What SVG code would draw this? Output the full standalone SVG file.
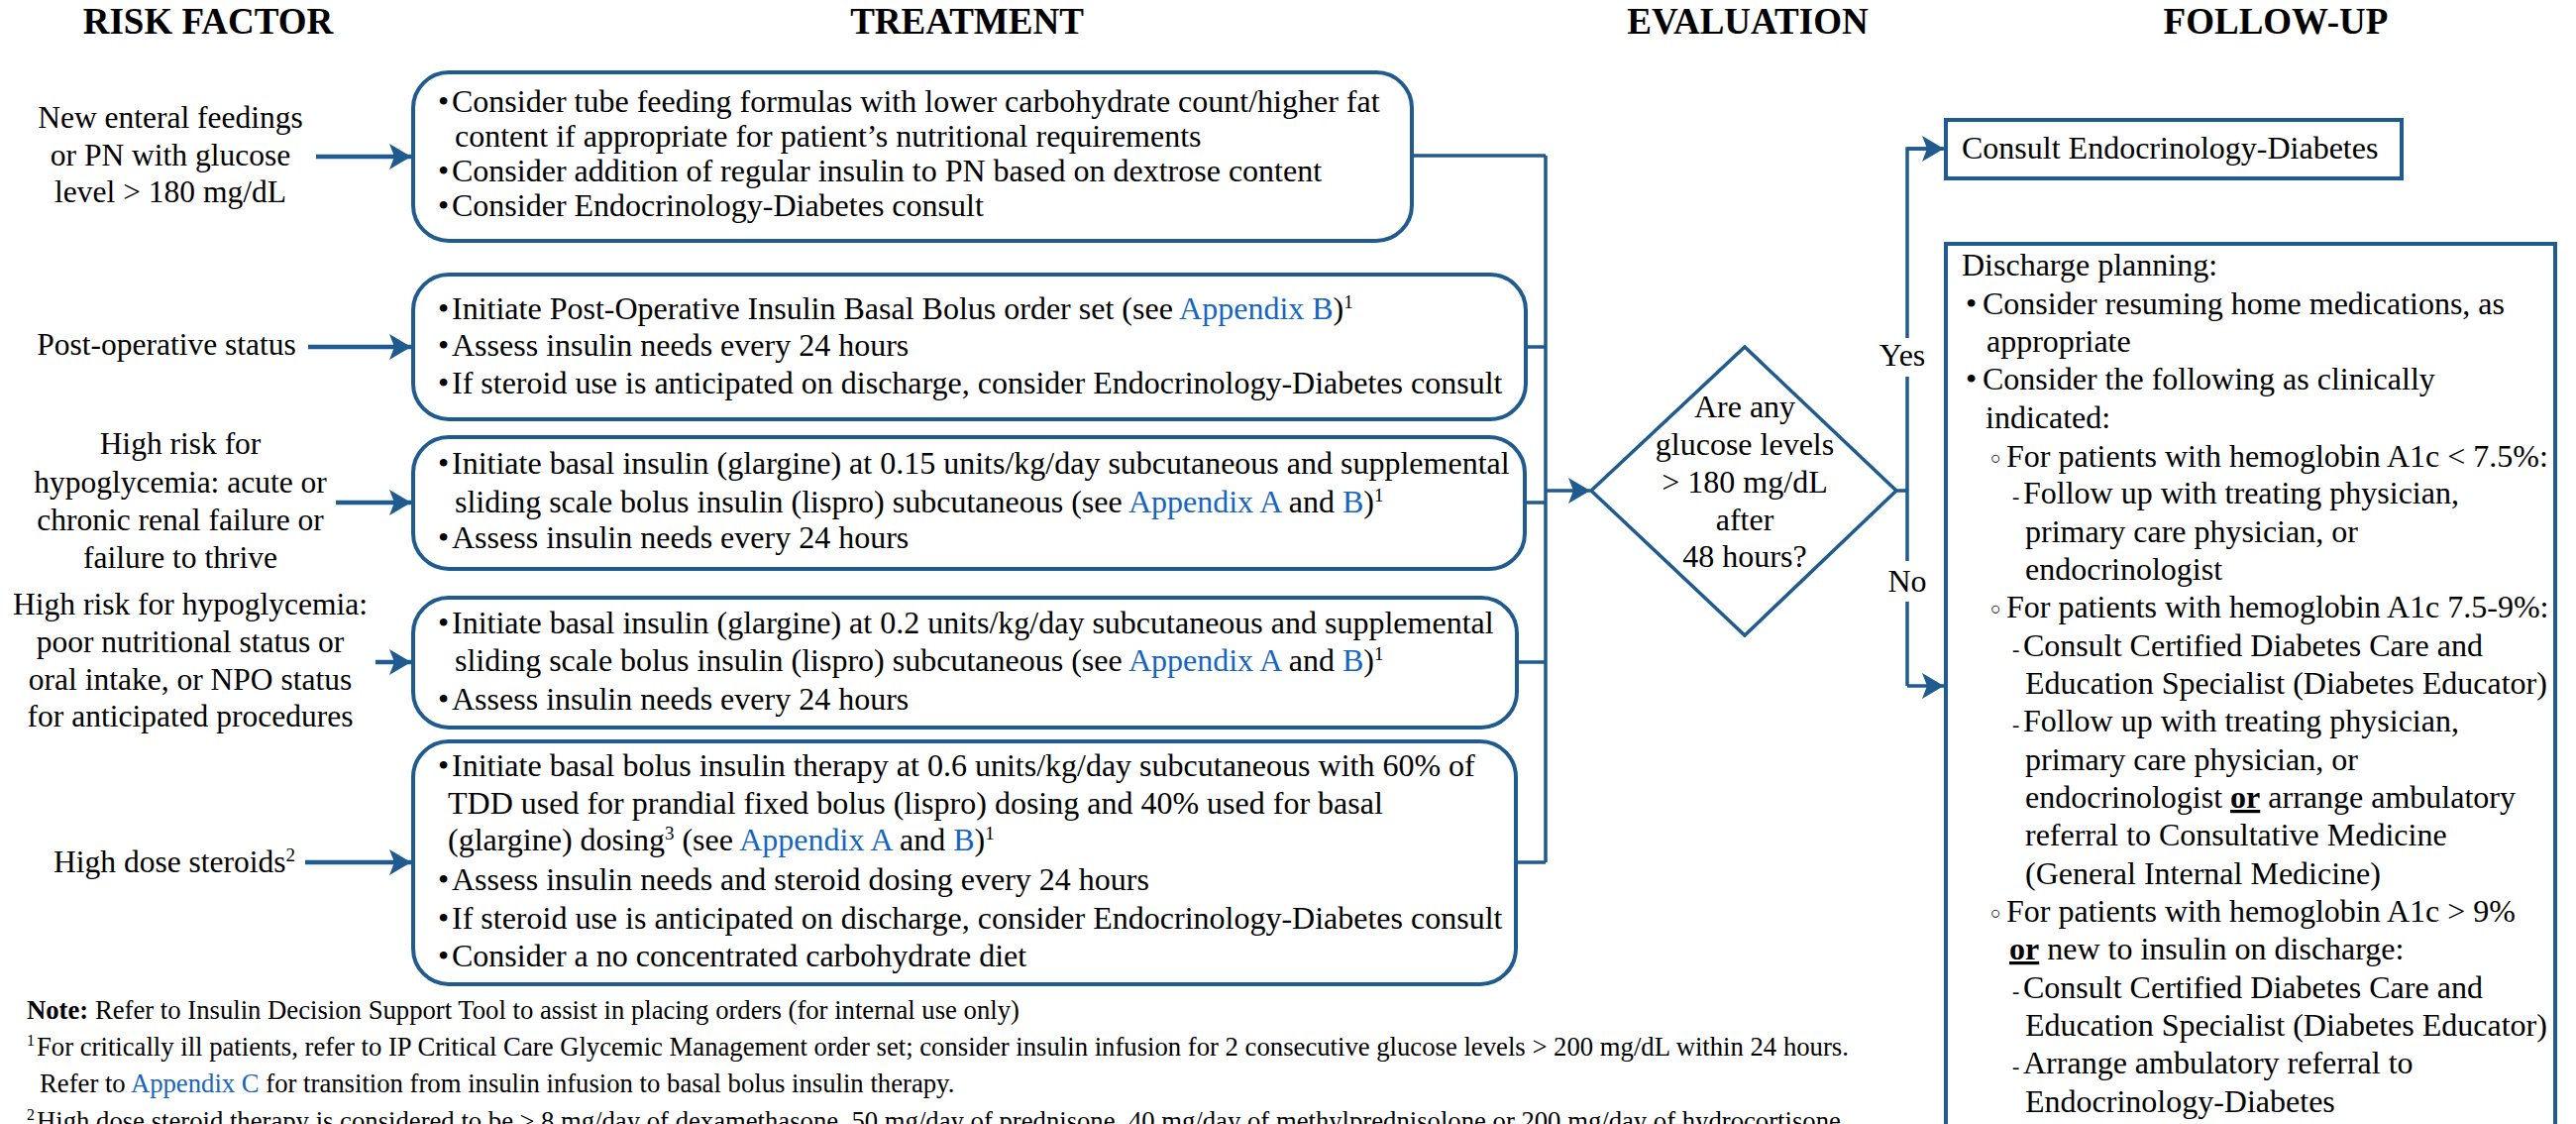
<svg xmlns="http://www.w3.org/2000/svg" width="2600" height="1134" viewBox="0 0 2600 1134">
  <style>
    text { font-family: "Liberation Serif", "Times New Roman", serif; fill: #000; }
    .hdr { font-size: 37px; font-weight: bold; text-anchor: middle; }
    .t { font-size: 32px; }
    .rf { font-size: 31.5px; text-anchor: middle; }
    .rfl { font-size: 31.5px; }
    .fn { font-size: 26.7px; }
    .lnk { fill: #1565c0; }
    .box { fill: #fff; stroke: #1f5b8e; stroke-width: 4; }
    .wire { fill: none; stroke: #1f5b8e; stroke-width: 3.5; }
    .feed { fill: none; stroke: #1f5b8e; stroke-width: 4.5; }
    .circ { font-size: 18px; }
    .dash { font-size: 22px; }
  </style>
  <defs>
    <marker id="arr" markerUnits="userSpaceOnUse" markerWidth="24" markerHeight="28" refX="22" refY="13" orient="auto">
      <path d="M0,0 L22,13 L0,26 L5,13 z" fill="#1f5b8e"/>
    </marker>
  </defs>
  <rect width="2600" height="1134" fill="#fff"/>

  <!-- column headings -->
  <g id="headings">
    <text class="hdr" x="210" y="34">RISK FACTOR</text>
    <text class="hdr" x="976" y="34">TREATMENT</text>
    <text class="hdr" x="1764" y="34">EVALUATION</text>
    <text class="hdr" x="2297" y="34">FOLLOW-UP</text>
  </g>

  <!-- connectors -->
  <g id="connectors">
    <line class="feed" x1="319" y1="158" x2="415" y2="158" marker-end="url(#arr)"/>
    <line class="feed" x1="311" y1="350" x2="415" y2="350" marker-end="url(#arr)"/>
    <line class="feed" x1="339" y1="507" x2="415" y2="507" marker-end="url(#arr)"/>
    <line class="feed" x1="379" y1="668" x2="415" y2="668" marker-end="url(#arr)"/>
    <line class="feed" x1="308" y1="870" x2="415" y2="870" marker-end="url(#arr)"/>
    <!-- collector bus from treatment boxes -->
    <path class="wire" d="M1425,157 H1560 M1540,350 H1560 M1539,507 H1560 M1531,668 H1560 M1530,870 H1560 M1560,157 V870"/>
    <line class="wire" x1="1560" y1="495" x2="1605" y2="495" marker-end="url(#arr)"/>
    <!-- decision outputs -->
    <path class="wire" d="M1914,495 H1925 M1925,341 V150 H1961"/>
    <line class="wire" x1="1925" y1="150" x2="1962" y2="150" marker-end="url(#arr)"/>
    <path class="wire" d="M1925,380 V566 M1925,607 V692"/>
    <line class="wire" x1="1925" y1="692" x2="1962" y2="692" marker-end="url(#arr)"/>
    <text class="t" x="1920" y="369" text-anchor="middle">Yes</text>
    <text class="t" x="1925" y="597" text-anchor="middle">No</text>
  </g>

  <!-- risk factors -->
  <g id="rf-enteral">
    <text class="rf" x="172" y="129">New enteral feedings</text>
    <text class="rf" x="172" y="167">or PN with glucose</text>
    <text class="rf" x="172" y="204">level &gt; 180 mg/dL</text>
  </g>
  <g id="rf-postop">
    <text class="rf" x="168" y="358">Post-operative status</text>
  </g>
  <g id="rf-renal">
    <text class="rf" x="182" y="458">High risk for</text>
    <text class="rf" x="182" y="497">hypoglycemia: acute or</text>
    <text class="rf" x="182" y="535">chronic renal failure or</text>
    <text class="rf" x="182" y="573">failure to thrive</text>
  </g>
  <g id="rf-nutrition">
    <text class="rf" x="192" y="620">High risk for hypoglycemia:</text>
    <text class="rf" x="192" y="658">poor nutritional status or</text>
    <text class="rf" x="192" y="696">oral intake, or NPO status</text>
    <text class="rf" x="192" y="733">for anticipated procedures</text>
  </g>
  <g id="rf-steroids">
    <text class="rfl" x="54" y="880">High dose steroids<tspan dy="-11" font-size="19">2</tspan></text>
  </g>

  <!-- treatment boxes -->
  <g id="tx-enteral">
    <rect class="box" x="417" y="73" width="1008" height="170" rx="36"/>
    <text class="t" x="442" y="113">•</text><text class="t" x="456" y="113">Consider tube feeding formulas with lower carbohydrate count/higher fat</text>
    <text class="t" x="459" y="148">content if appropriate for patient’s nutritional requirements</text>
    <text class="t" x="442" y="183">•</text><text class="t" x="456" y="183">Consider addition of regular insulin to PN based on dextrose content</text>
    <text class="t" x="442" y="218">•</text><text class="t" x="456" y="218">Consider Endocrinology-Diabetes consult</text>
  </g>
  <g id="tx-postop">
    <rect class="box" x="417" y="277" width="1123" height="146" rx="36"/>
    <text class="t" x="442" y="322">•</text><text class="t" x="456" y="322">Initiate Post-Operative Insulin Basal Bolus order set (see <tspan class="lnk">Appendix B</tspan>)<tspan dy="-11" font-size="19">1</tspan></text>
    <text class="t" x="442" y="359">•</text><text class="t" x="456" y="359">Assess insulin needs every 24 hours</text>
    <text class="t" x="442" y="397">•</text><text class="t" x="456" y="397">If steroid use is anticipated on discharge, consider Endocrinology-Diabetes consult</text>
  </g>
  <g id="tx-renal">
    <rect class="box" x="417" y="441" width="1122" height="133" rx="36"/>
    <text class="t" x="442" y="478">•</text><text class="t" x="456" y="478">Initiate basal insulin (glargine) at 0.15 units/kg/day subcutaneous and supplemental</text>
    <text class="t" x="459" y="517">sliding scale bolus insulin (lispro) subcutaneous (see <tspan class="lnk">Appendix A</tspan> and <tspan class="lnk">B</tspan>)<tspan dy="-11" font-size="19">1</tspan></text>
    <text class="t" x="442" y="553">•</text><text class="t" x="456" y="553">Assess insulin needs every 24 hours</text>
  </g>
  <g id="tx-nutrition">
    <rect class="box" x="417" y="603" width="1114" height="131" rx="36"/>
    <text class="t" x="442" y="639">•</text><text class="t" x="456" y="639">Initiate basal insulin (glargine) at 0.2 units/kg/day subcutaneous and supplemental</text>
    <text class="t" x="459" y="677">sliding scale bolus insulin (lispro) subcutaneous (see <tspan class="lnk">Appendix A</tspan> and <tspan class="lnk">B</tspan>)<tspan dy="-11" font-size="19">1</tspan></text>
    <text class="t" x="442" y="716">•</text><text class="t" x="456" y="716">Assess insulin needs every 24 hours</text>
  </g>
  <g id="tx-steroids">
    <rect class="box" x="417" y="748" width="1113" height="245" rx="36"/>
    <text class="t" x="442" y="783">•</text><text class="t" x="456" y="783">Initiate basal bolus insulin therapy at 0.6 units/kg/day subcutaneous with 60% of</text>
    <text class="t" x="452" y="821">TDD used for prandial fixed bolus (lispro) dosing and 40% used for basal</text>
    <text class="t" x="452" y="858">(glargine) dosing<tspan dy="-11" font-size="19">3</tspan><tspan dy="11"> (see </tspan><tspan class="lnk">Appendix A</tspan> and <tspan class="lnk">B</tspan>)<tspan dy="-11" font-size="19">1</tspan></text>
    <text class="t" x="442" y="898">•</text><text class="t" x="456" y="898">Assess insulin needs and steroid dosing every 24 hours</text>
    <text class="t" x="442" y="937">•</text><text class="t" x="456" y="937">If steroid use is anticipated on discharge, consider Endocrinology-Diabetes consult</text>
    <text class="t" x="442" y="975">•</text><text class="t" x="456" y="975">Consider a no concentrated carbohydrate diet</text>
  </g>

  <!-- evaluation -->
  <g id="eval">
    <polygon points="1606,495 1761,350 1914,495 1761,641" fill="#fff" stroke="#1f5b8e" stroke-width="3.5"/>
    <text class="t" x="1761" y="421" text-anchor="middle">Are any</text>
    <text class="t" x="1761" y="459" text-anchor="middle">glucose levels</text>
    <text class="t" x="1761" y="497" text-anchor="middle">&gt; 180 mg/dL</text>
    <text class="t" x="1761" y="535" text-anchor="middle">after</text>
    <text class="t" x="1761" y="572" text-anchor="middle">48 hours?</text>
  </g>

  <!-- follow-up -->
  <g id="fu-consult">
    <rect class="box" x="1964" y="121" width="460" height="59"/>
    <text class="t" x="1980" y="160">Consult Endocrinology-Diabetes</text>
  </g>
  <g id="fu-discharge">
    <rect class="box" x="1964" y="246" width="615" height="920"/>
    <text class="t" x="1980" y="278">Discharge planning:</text>
    <text class="t" x="1984" y="317">•</text><text class="t" x="2001" y="317">Consider resuming home medications, as</text>
    <text class="t" x="2005" y="355">appropriate</text>
    <text class="t" x="1984" y="393">•</text><text class="t" x="2001" y="393">Consider the following as clinically</text>
    <text class="t" x="2004" y="432">indicated:</text>
    <text class="circ" x="2009" y="468">○</text><text class="t" x="2025" y="471">For patients with hemoglobin A1c &lt; 7.5%:</text>
    <text class="dash" x="2031" y="508">-</text><text class="t" x="2042" y="508">Follow up with treating physician,</text>
    <text class="t" x="2044" y="547">primary care physician, or</text>
    <text class="t" x="2044" y="585">endocrinologist</text>
    <text class="circ" x="2009" y="620">○</text><text class="t" x="2025" y="623">For patients with hemoglobin A1c 7.5-9%:</text>
    <text class="dash" x="2031" y="662">-</text><text class="t" x="2042" y="662">Consult Certified Diabetes Care and</text>
    <text class="t" x="2044" y="700">Education Specialist (Diabetes Educator)</text>
    <text class="dash" x="2031" y="738">-</text><text class="t" x="2042" y="738">Follow up with treating physician,</text>
    <text class="t" x="2044" y="777">primary care physician, or</text>
    <text class="t" x="2044" y="815">endocrinologist <tspan font-weight="bold" text-decoration="underline">or</tspan> arrange ambulatory</text>
    <text class="t" x="2044" y="853">referral to Consultative Medicine</text>
    <text class="t" x="2044" y="892">(General Internal Medicine)</text>
    <text class="circ" x="2009" y="927">○</text><text class="t" x="2025" y="930">For patients with hemoglobin A1c &gt; 9%</text>
    <text class="t" x="2028" y="968"><tspan font-weight="bold" text-decoration="underline">or</tspan> new to insulin on discharge:</text>
    <text class="dash" x="2031" y="1007">-</text><text class="t" x="2042" y="1007">Consult Certified Diabetes Care and</text>
    <text class="t" x="2044" y="1045">Education Specialist (Diabetes Educator)</text>
    <text class="dash" x="2031" y="1083">-</text><text class="t" x="2042" y="1083">Arrange ambulatory referral to</text>
    <text class="t" x="2044" y="1122">Endocrinology-Diabetes</text>
  </g>

  <!-- notes -->
  <g id="notes">
    <text class="fn" x="27" y="1028"><tspan font-weight="bold">Note:</tspan> Refer to Insulin Decision Support Tool to assist in placing orders (for internal use only)</text>
    <text x="27" y="1055" font-size="16">1</text>
    <text class="fn" x="37" y="1065">For critically ill patients, refer to IP Critical Care Glycemic Management order set; consider insulin infusion for 2 consecutive glucose levels &gt; 200 mg/dL within 24 hours.</text>
    <text class="fn" x="40" y="1102">Refer to <tspan class="lnk">Appendix C</tspan> for transition from insulin infusion to basal bolus insulin therapy.</text>
    <text x="27" y="1130" font-size="16">2</text>
    <text class="fn" x="37" y="1140">High dose steroid therapy is considered to be ≥ 8 mg/day of dexamethasone, 50 mg/day of prednisone, 40 mg/day of methylprednisolone or 200 mg/day of hydrocortisone</text>
  </g>
</svg>
